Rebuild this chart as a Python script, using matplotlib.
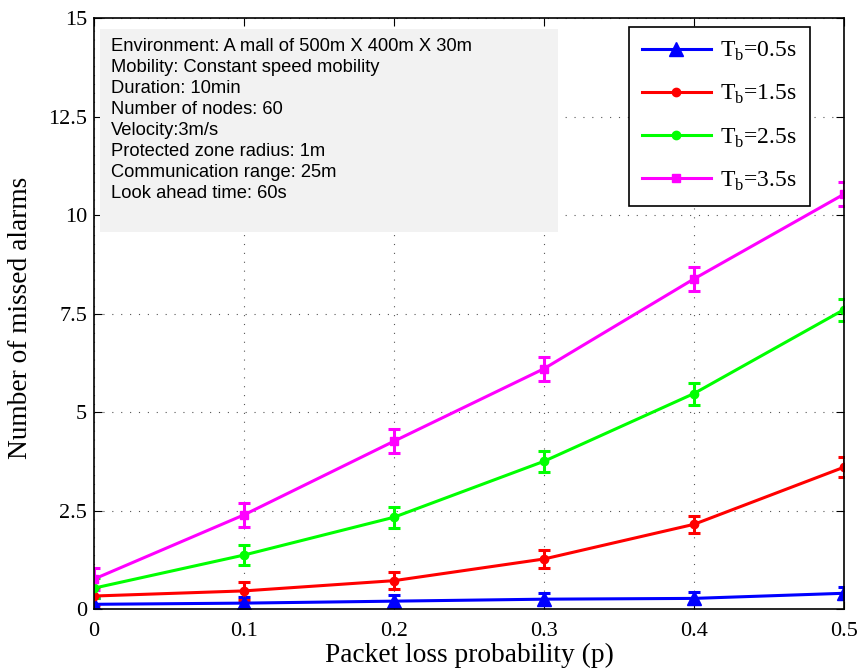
import numpy as np
import matplotlib
matplotlib.use("Agg")
import matplotlib.pyplot as plt
from matplotlib.patches import Rectangle
from matplotlib.lines import Line2D

plt.rcParams["font.family"] = "Liberation Serif"
plt.rcParams["mathtext.fontset"] = "custom"
plt.rcParams["mathtext.rm"] = "Liberation Serif"

# datos
p = [0, 0.1, 0.2, 0.3, 0.4, 0.5]
tb_05 = [0.12, 0.15, 0.2, 0.25, 0.27, 0.4]
tb_15 = [0.33, 0.46, 0.72, 1.27, 2.15, 3.6]
tb_25 = [0.53, 1.37, 2.33, 3.75, 5.47, 7.6]
tb_35 = [0.76, 2.39, 4.26, 6.1, 8.38, 10.53]
err_05 = [0.15, 0.15, 0.15, 0.15, 0.15, 0.15]
err_15 = [0.22, 0.22, 0.22, 0.22, 0.22, 0.25]
err_25 = [0.25, 0.26, 0.27, 0.27, 0.28, 0.28]
err_35 = [0.28, 0.3, 0.3, 0.3, 0.3, 0.3]
labels = [r"T$_\mathrm{b}$=0.5s", r"T$_\mathrm{b}$=1.5s", r"T$_\mathrm{b}$=2.5s", r"T$_\mathrm{b}$=3.5s"]

info = ("Environment: A mall of 500m X 400m X 30m\n"
        "Mobility: Constant speed mobility\n"
        "Duration: 10min\n"
        "Number of nodes: 60\n"
        "Velocity:3m/s\n"
        "Protected zone radius: 1m\n"
        "Communication range: 25m\n"
        "Look ahead time: 60s")

fig = plt.figure(figsize=(8.59, 6.7), dpi=100)
ax = fig.add_axes([0.1094, 0.091, 0.8731, 0.882])

series = [(tb_05, err_05, "#0000ff", "^", 10),
          (tb_15, err_15, "#ff0000", "o", 6),
          (tb_25, err_25, "#00ff00", "o", 6),
          (tb_35, err_35, "#ff00ff", "s", 6)]
handles = []
for (y, e, c, m, ms), lab in zip(series, labels):
    ax.errorbar(p, y, yerr=e, color=c, marker=m, markersize=ms, linewidth=2.2,
                elinewidth=2.2, capsize=4.5, capthick=2.2)
    handles.append(Line2D([], [], color=c, marker=m, markersize=ms, linewidth=2.2, label=lab))

ax.set_xlim(0, 0.5)
ax.set_ylim(0, 15)
ax.set_xticks(p)
ax.set_xticklabels(["0", "0.1", "0.2", "0.3", "0.4", "0.5"])
ax.set_yticks([0, 2.5, 5, 7.5, 10, 12.5, 15])
ax.set_yticklabels(["0", "2.5", "5", "7.5", "10", "12.5", "15"])
ax.tick_params(direction="in", labelsize=16, length=6, top=True, right=True)
ax.tick_params(axis="x", pad=9)
ax.tick_params(axis="y", pad=5)
ax.grid(True, linestyle=(0, (1, 7)), color="#555555", linewidth=0.8)
ax.set_xlabel("Packet loss probability (p)", fontsize=19.7, labelpad=2)
ax.set_ylabel("Number of missed alarms", fontsize=19.7)
ax.yaxis.set_label_coords(-0.081, 0.493)
for s in ax.spines.values():
    s.set_linewidth(1.2)

ax.add_patch(Rectangle((0.008, 0.638), 0.611, 0.343, transform=ax.transAxes,
                       facecolor="#f2f2f2", edgecolor="none", zorder=3))
ax.text(0.0227, 0.966, info, transform=ax.transAxes, fontsize=13.2,
        family="Liberation Sans", va="top", ha="left", linespacing=1.31, zorder=4)

leg = ax.legend(handles=handles, loc="upper right", bbox_to_anchor=(0.9547, 0.985),
                borderaxespad=0, fontsize=17, fancybox=False, edgecolor="black",
                framealpha=1, handlelength=2.9, handletextpad=0.4, labelspacing=0.85,
                borderpad=0.55)
leg.get_frame().set_linewidth(1.2)
leg.set_zorder(5)

fig.savefig("out.png", dpi=100)
